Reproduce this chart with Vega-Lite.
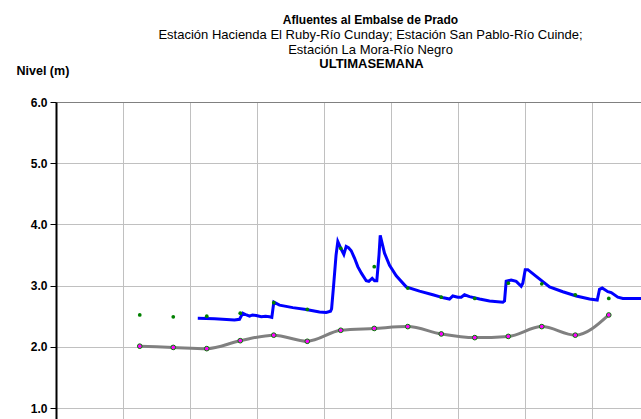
{
  "$schema": "https://vega.github.io/schema/vega-lite/v6.json",
  "autosize": {"type": "none"},
  "width": 585,
  "height": 317,
  "padding": {"left": 56, "top": 102, "right": 0, "bottom": 0},
  "background": "white",
  "config": {
    "view": {"stroke": null},
    "font": "Liberation Sans"
  },
  "title": {
    "text": "Afluentes al Embalse de Prado",
    "subtitle": ["Estación Hacienda El Ruby-Río Cunday; Estación San Pablo-Río Cuinde;", "Estación La Mora-Río Negro"],
    "font": "Liberation Sans",
    "fontSize": 12,
    "fontWeight": "bold",
    "color": "black",
    "subtitleFont": "Liberation Sans",
    "subtitleFontSize": 13,
    "subtitleFontWeight": "normal",
    "subtitleColor": "black",
    "subtitleLineHeight": 15,
    "subtitlePadding": 2,
    "anchor": "middle",
    "dx": 22,
    "offset": -1
  },
  "datasets": {
    "horaria": [
      {"t": 2.116, "nivel": 2.465},
      {"t": 2.366, "nivel": 2.46},
      {"t": 2.664, "nivel": 2.44},
      {"t": 2.739, "nivel": 2.45},
      {"t": 2.788, "nivel": 2.55},
      {"t": 2.843, "nivel": 2.52},
      {"t": 2.888, "nivel": 2.5},
      {"t": 2.933, "nivel": 2.52},
      {"t": 2.988, "nivel": 2.51},
      {"t": 3.063, "nivel": 2.49},
      {"t": 3.127, "nivel": 2.5},
      {"t": 3.187, "nivel": 2.49},
      {"t": 3.221, "nivel": 2.48},
      {"t": 3.251, "nivel": 2.73},
      {"t": 3.336, "nivel": 2.68},
      {"t": 3.534, "nivel": 2.64},
      {"t": 3.734, "nivel": 2.61},
      {"t": 3.933, "nivel": 2.57},
      {"t": 4.033, "nivel": 2.56},
      {"t": 4.097, "nivel": 2.58},
      {"t": 4.113, "nivel": 2.62},
      {"t": 4.143, "nivel": 3.0},
      {"t": 4.18, "nivel": 3.5},
      {"t": 4.206, "nivel": 3.72},
      {"t": 4.254, "nivel": 3.6},
      {"t": 4.296, "nivel": 3.51},
      {"t": 4.331, "nivel": 3.64},
      {"t": 4.366, "nivel": 3.62},
      {"t": 4.406, "nivel": 3.57},
      {"t": 4.455, "nivel": 3.45},
      {"t": 4.504, "nivel": 3.31},
      {"t": 4.56, "nivel": 3.2},
      {"t": 4.63, "nivel": 3.08},
      {"t": 4.669, "nivel": 3.07},
      {"t": 4.719, "nivel": 3.12},
      {"t": 4.754, "nivel": 3.08},
      {"t": 4.788, "nivel": 3.08},
      {"t": 4.821, "nivel": 3.5},
      {"t": 4.839, "nivel": 3.82},
      {"t": 4.903, "nivel": 3.53},
      {"t": 4.978, "nivel": 3.33},
      {"t": 5.078, "nivel": 3.16},
      {"t": 5.227, "nivel": 2.98},
      {"t": 5.425, "nivel": 2.91},
      {"t": 5.624, "nivel": 2.85},
      {"t": 5.784, "nivel": 2.8},
      {"t": 5.873, "nivel": 2.78},
      {"t": 5.922, "nivel": 2.83},
      {"t": 5.997, "nivel": 2.81},
      {"t": 6.048, "nivel": 2.81},
      {"t": 6.097, "nivel": 2.85},
      {"t": 6.172, "nivel": 2.82},
      {"t": 6.321, "nivel": 2.78},
      {"t": 6.47, "nivel": 2.75},
      {"t": 6.669, "nivel": 2.73},
      {"t": 6.694, "nivel": 2.75},
      {"t": 6.719, "nivel": 3.07},
      {"t": 6.794, "nivel": 3.09},
      {"t": 6.869, "nivel": 3.07},
      {"t": 6.943, "nivel": 2.99},
      {"t": 6.967, "nivel": 3.04},
      {"t": 7.003, "nivel": 3.26},
      {"t": 7.042, "nivel": 3.26},
      {"t": 7.167, "nivel": 3.15},
      {"t": 7.366, "nivel": 2.98},
      {"t": 7.564, "nivel": 2.9},
      {"t": 7.764, "nivel": 2.83},
      {"t": 7.963, "nivel": 2.78},
      {"t": 8.078, "nivel": 2.765},
      {"t": 8.112, "nivel": 2.94},
      {"t": 8.152, "nivel": 2.96},
      {"t": 8.236, "nivel": 2.9},
      {"t": 8.287, "nivel": 2.885},
      {"t": 8.385, "nivel": 2.81},
      {"t": 8.46, "nivel": 2.79},
      {"t": 8.724, "nivel": 2.79},
      {"t": 9.007, "nivel": 2.79}
    ],
    "diaria": [
      {"t": 1.25, "gris": 2.01, "verde": 2.52},
      {"t": 1.75, "gris": 1.99, "verde": 2.49},
      {"t": 2.25, "gris": 1.97, "verde": 2.5},
      {"t": 2.75, "gris": 2.1, "verde": 2.55},
      {"t": 3.25, "gris": 2.19, "verde": 2.72},
      {"t": 3.75, "gris": 2.09, "verde": 2.61},
      {"t": 4.25, "gris": 2.27, "verde": 3.61},
      {"t": 4.75, "gris": 2.3, "verde": 3.31},
      {"t": 5.25, "gris": 2.33, "verde": 2.96},
      {"t": 5.75, "gris": 2.21, "verde": 2.81},
      {"t": 6.25, "gris": 2.15, "verde": 2.79},
      {"t": 6.75, "gris": 2.17, "verde": 3.04},
      {"t": 7.25, "gris": 2.33, "verde": 3.03},
      {"t": 7.75, "gris": 2.19, "verde": 2.85},
      {"t": 8.25, "gris": 2.52, "verde": 2.79}
    ]
  },
  "encoding": {
    "x": {
      "field": "t",
      "type": "quantitative",
      "scale": {"domain": [0, 8.731], "nice": false, "zero": false},
      "axis": {
        "orient": "top",
        "values": [0, 1, 2, 3, 4, 5, 6, 7, 8, 9],
        "grid": true,
        "gridColor": "#c0c0c0",
        "gridWidth": 1,
        "labels": false,
        "ticks": false,
        "domain": true,
        "domainColor": "#808080",
        "domainWidth": 1,
        "title": "ULTIMASEMANA",
        "titleFont": "Liberation Sans",
        "titleFontSize": 13,
        "titleFontWeight": "bold",
        "titleColor": "black",
        "titleAnchor": null,
        "titleAlign": "center",
        "titleX": 315,
        "titleBaseline": "alphabetic",
        "titlePadding": 35
      }
    }
  },
  "layer": [
    {
      "data": {"name": "horaria"},
      "mark": {"type": "line", "color": "#0000ff", "strokeWidth": 3, "clip": true},
      "encoding": {
        "y": {
          "field": "nivel",
          "type": "quantitative",
          "scale": {"domain": [0.8203, 6], "nice": false, "zero": false},
          "axis": {
            "values": [1, 1.5, 2, 2.5, 3, 3.5, 4, 4.5, 5, 5.5, 6],
            "grid": true,
            "gridColor": "#c0c0c0",
            "gridWidth": 1,
            "domainColor": "black",
            "domainWidth": 2,
            "tickColor": {"condition": {"test": "datum.value % 1 !== 0", "value": "transparent"}, "value": "black"},
            "tickSize": 6,
            "tickWidth": 1,
            "labelExpr": "datum.value % 1 === 0 ? format(datum.value, '.1f') : ''",
            "labelFont": "Liberation Sans",
            "labelFontSize": 12,
            "labelFontWeight": "bold",
            "labelColor": "black",
            "labelPadding": 3,
            "title": "Nivel (m)",
            "titleFont": "Liberation Sans",
            "titleFontSize": 12.5,
            "titleFontWeight": "bold",
            "titleColor": "black",
            "titleAngle": 0,
            "titleAlign": "left",
            "titleBaseline": "alphabetic",
            "titleAnchor": null,
            "titleX": -40,
            "titleY": -28
          }
        }
      }
    },
    {
      "data": {"name": "diaria"},
      "mark": {"type": "line", "color": "#808080", "strokeWidth": 3, "interpolate": "monotone", "clip": true},
      "encoding": {"y": {"field": "gris", "type": "quantitative"}}
    },
    {
      "data": {"name": "diaria"},
      "mark": {"type": "point", "filled": true, "fill": "#ff00ff", "stroke": "#008000", "strokeWidth": 1, "size": 22, "opacity": 1, "clip": true},
      "encoding": {"y": {"field": "gris", "type": "quantitative"}}
    },
    {
      "data": {"name": "diaria"},
      "mark": {"type": "circle", "color": "#008000", "size": 14, "opacity": 1, "clip": true},
      "encoding": {"y": {"field": "verde", "type": "quantitative"}}
    }
  ]
}
